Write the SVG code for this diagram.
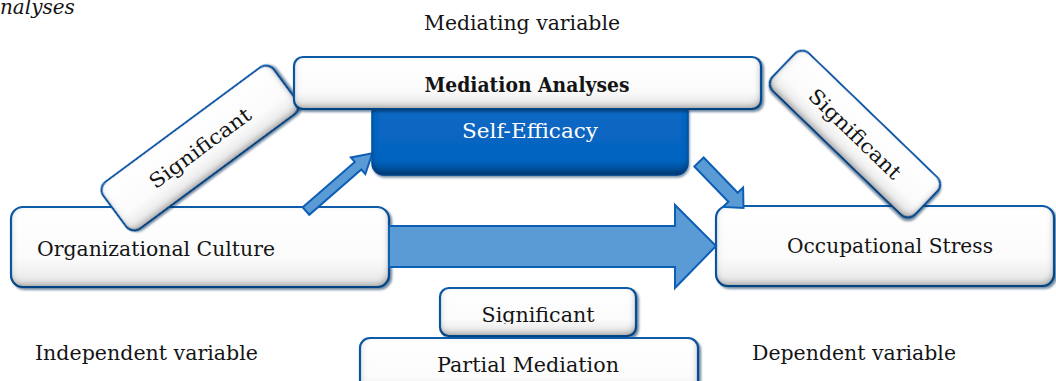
<svg xmlns="http://www.w3.org/2000/svg" width="1056" height="381" viewBox="0 0 1056 381">
  <style>
    .lbl { font-family: "DejaVu Serif", "Liberation Serif", serif; font-size: 20px; fill: #141414; }
    .box { fill: url(#gWhite); stroke: #1a62b3; stroke-width: 2.2; filter: url(#bevel); }
    .arrow { fill: #5b9bd5; stroke: #0d5fb6; stroke-width: 2; stroke-linejoin: miter; }
  </style>
  <defs>
    <linearGradient id="gWhite" x1="0" y1="0" x2="0" y2="1">
      <stop offset="0" stop-color="#ffffff"/>
      <stop offset="0.65" stop-color="#fbfbfb"/>
      <stop offset="1" stop-color="#e4e4e4"/>
    </linearGradient>
    <linearGradient id="gBlue" x1="0" y1="0" x2="0" y2="1">
      <stop offset="0" stop-color="#0a68c4"/>
      <stop offset="0.8" stop-color="#0564c0"/>
      <stop offset="1" stop-color="#03488e"/>
    </linearGradient>
    <!-- soft bevel: inner shade on lower/right edges plus a thin drop shadow -->
    <filter id="bevel" x="-10%" y="-20%" width="120%" height="140%">
      <feGaussianBlur in="SourceAlpha" stdDeviation="3" result="blur"/>
      <feOffset in="blur" dx="-2.5" dy="-4" result="off"/>
      <feComposite in="SourceAlpha" in2="off" operator="arithmetic" k2="1" k3="-1" result="inner"/>
      <feFlood flood-color="#000" flood-opacity="0.55"/>
      <feComposite in2="inner" operator="in" result="shade"/>
      <feOffset in="blur" dx="3" dy="0" result="offL"/>
      <feComposite in="SourceAlpha" in2="offL" operator="arithmetic" k2="1" k3="-1" result="innerL"/>
      <feFlood flood-color="#000" flood-opacity="0.2"/>
      <feComposite in2="innerL" operator="in" result="shadeL"/>
      <feOffset in="SourceAlpha" dx="1.5" dy="2" result="drop0"/>
      <feGaussianBlur in="drop0" stdDeviation="1" result="drop1"/>
      <feFlood flood-color="#0b2a52" flood-opacity="0.55"/>
      <feComposite in2="drop1" operator="in" result="drop"/>
      <feMerge>
        <feMergeNode in="drop"/>
        <feMergeNode in="SourceGraphic"/>
        <feMergeNode in="shade"/>
        <feMergeNode in="shadeL"/>
      </feMerge>
    </filter>
    <filter id="bevelDark" x="-10%" y="-20%" width="120%" height="140%">
      <feGaussianBlur in="SourceAlpha" stdDeviation="3" result="blur"/>
      <feOffset in="blur" dx="0" dy="-4" result="off"/>
      <feComposite in="SourceAlpha" in2="off" operator="arithmetic" k2="1" k3="-1" result="inner"/>
      <feFlood flood-color="#001a3a" flood-opacity="0.6"/>
      <feComposite in2="inner" operator="in" result="shade"/>
      <feOffset in="SourceAlpha" dx="1" dy="2" result="drop0"/>
      <feGaussianBlur in="drop0" stdDeviation="1.2" result="drop1"/>
      <feFlood flood-color="#0b2a52" flood-opacity="0.5"/>
      <feComposite in2="drop1" operator="in" result="drop"/>
      <feMerge>
        <feMergeNode in="drop"/>
        <feMergeNode in="SourceGraphic"/>
        <feMergeNode in="shade"/>
      </feMerge>
    </filter>
    <clipPath id="clipSig">
      <rect x="430" y="280" width="220" height="44"/>
    </clipPath>
  </defs>

  <!-- captions -->
  <g id="captions">
    <text class="lbl" x="-12" y="14" font-size="22.5" font-style="italic">analyses</text>
    <text class="lbl" x="522" y="30" text-anchor="middle" textLength="196" lengthAdjust="spacingAndGlyphs">Mediating variable</text>
    <text class="lbl" x="35" y="360" textLength="223" lengthAdjust="spacingAndGlyphs">Independent variable</text>
    <text class="lbl" x="752" y="360" textLength="204" lengthAdjust="spacingAndGlyphs">Dependent variable</text>
  </g>

  <!-- independent variable -->
  <g id="org-culture">
    <rect class="box" x="11" y="207" width="378" height="80" rx="12"/>
    <text class="lbl" x="37" y="256" textLength="238" lengthAdjust="spacingAndGlyphs">Organizational Culture</text>
  </g>

  <!-- dependent variable -->
  <g id="occ-stress">
    <rect class="box" x="716" y="206" width="338" height="80" rx="12"/>
    <text class="lbl" x="890" y="253" text-anchor="middle" textLength="206" lengthAdjust="spacingAndGlyphs">Occupational Stress</text>
  </g>

  <!-- connectors -->
  <g id="connectors">
    <polygon class="arrow" points="389,226 675,226 675,205 716,246 675,288 675,267 389,267"/>
    <g transform="translate(306,211) rotate(-41)">
      <polygon class="arrow" points="0,-5 69,-5 69,-11 88,0 69,11 69,5 0,5"/>
    </g>
    <g transform="translate(699,162) rotate(46)">
      <polygon class="arrow" points="0,-6.5 49,-6.5 49,-14 64,0 49,14 49,6.5 0,6.5"/>
    </g>
  </g>

  <!-- path a: independent to mediator -->
  <g id="sig-a" transform="translate(200,148) rotate(-36.5)">
    <rect class="box" x="-106" y="-29" width="212" height="58" rx="10"/>
    <text class="lbl" x="0" y="7" text-anchor="middle" textLength="121" lengthAdjust="spacingAndGlyphs">Significant</text>
  </g>

  <!-- path b: mediator to dependent -->
  <g id="sig-b" transform="translate(855,134) rotate(44)">
    <rect class="box" x="-99" y="-26" width="198" height="52" rx="10"/>
    <text class="lbl" x="0" y="7" text-anchor="middle" textLength="120" lengthAdjust="spacingAndGlyphs">Significant</text>
  </g>

  <!-- mediator -->
  <g id="self-efficacy">
    <rect x="372" y="100" width="316" height="75" rx="12" fill="url(#gBlue)" stroke="#0a5cb0" stroke-width="1.5" filter="url(#bevelDark)"/>
    <text class="lbl" x="530" y="138" text-anchor="middle" style="fill:#ffffff" textLength="136" lengthAdjust="spacingAndGlyphs">Self-Efficacy</text>
  </g>

  <g id="mediation-analyses">
    <rect class="box" x="294" y="57" width="467" height="52" rx="9"/>
    <text class="lbl" x="527" y="92" text-anchor="middle" font-weight="bold" textLength="205" lengthAdjust="spacingAndGlyphs">Mediation Analyses</text>
  </g>

  <!-- direct effect result -->
  <g id="sig-c">
    <rect class="box" x="440" y="288" width="196" height="48" rx="9"/>
    <text class="lbl" x="538" y="322" text-anchor="middle" clip-path="url(#clipSig)" textLength="113" lengthAdjust="spacingAndGlyphs">Significant</text>
  </g>

  <g id="partial-mediation">
    <rect class="box" x="360" y="338" width="338" height="60" rx="10"/>
    <text class="lbl" x="528" y="372" text-anchor="middle" textLength="182" lengthAdjust="spacingAndGlyphs">Partial Mediation</text>
  </g>
</svg>
